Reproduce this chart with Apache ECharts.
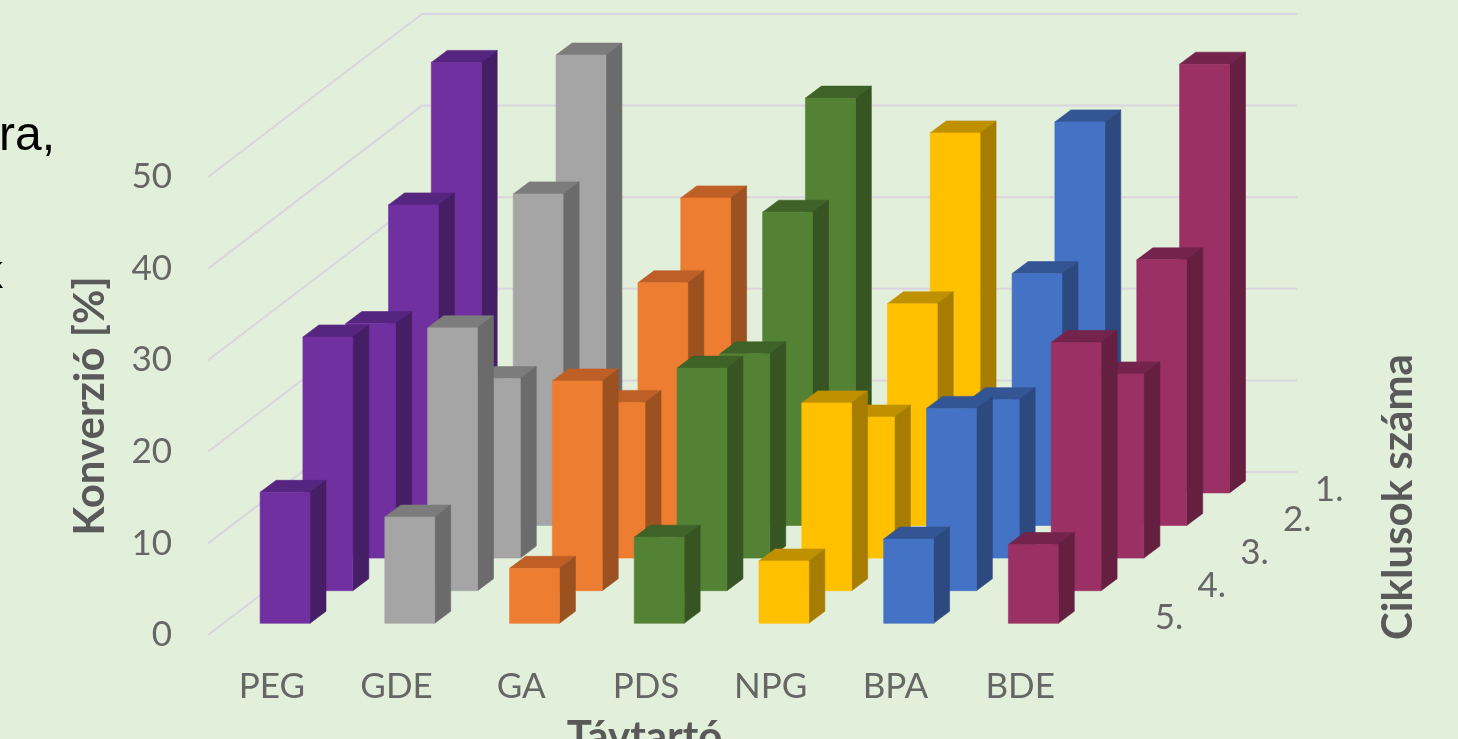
<!DOCTYPE html>
<html>
<head>
<meta charset="utf-8">
<title>Konverzió</title>
<style>
    html, body { margin: 0; padding: 0; background: #e2efda; overflow: hidden; }
    #chart { width: 1458px; height: 739px; }
</style>
<script src="https://cdn.jsdelivr.net/npm/echarts@6/dist/echarts.min.js"></script>
</head>
<body>
<div id="chart"></div>
<script>
var categories = ['PEG', 'GDE', 'GA', 'PDS', 'NPG', 'BPA', 'BDE'];
var cycleLabels = ['1.', '2.', '3.', '4.', '5.'];
var valueTicks = [0, 10, 20, 30, 40, 50];

// one list per cycle, same order as categories
var cycle1 = [47.0, 47.8, 32.2, 43.1, 39.3, 40.5, 46.8];
var cycle2 = [35.0, 36.2, 26.5, 34.2, 24.2, 27.5, 29.0];
var cycle3 = [25.6, 19.6, 17.0, 22.3, 15.4, 17.3, 20.1];
var cycle4 = [27.7, 28.7, 22.9, 24.3, 20.5, 19.9, 27.1];
var cycle5 = [14.3, 11.6, 6.0, 9.4, 6.8, 9.2, 8.6];
var cycles = [cycle1, cycle2, cycle3, cycle4, cycle5];

var frontColors = ['#7030a0', '#a5a5a5', '#ed7d31', '#548235', '#ffc000', '#4472c4', '#9a3064'];
var topColors = ['#562580', '#7c7c7c', '#bd5f26', '#3f6228', '#bf9000', '#335593', '#74244c'];
var sideColors = ['#451e66', '#6b6b6b', '#9b5220', '#365522', '#a67d00', '#2c4a80', '#641f41'];

var TEXT_COLOR = '#666666';
var FONT = 'Lato';

// projection of the depth axis on the screen
var STEP_X = 42.8;
var STEP_Y = 32.6;
var BAR_DX = 16;
var BAR_DY = 12;
var INSET_X = 14.7;
var INSET_Y = 11.7;

function face(points, color) {
    // thin stroke of the same colour closes the seams between faces
    return {
        type: 'polygon',
        shape: { points: points },
        style: { fill: color, stroke: color, lineWidth: 0.6 }
    };
}

function renderBar(params, api, rowsFromFront) {
    var cat = api.value(0);
    var top = api.coord([cat, api.value(1)]);
    var base = api.coord([cat, 0]);
    var w = api.size([1, 0])[0] * 0.4;
    var x0 = top[0] - w / 2 + INSET_X + rowsFromFront * STEP_X;
    var x1 = x0 + w;
    var shiftY = INSET_Y + rowsFromFront * STEP_Y;
    var y0 = top[1] - shiftY;
    var y1 = base[1] - shiftY;

    return {
        type: 'group',
        children: [
            face([[x0, y0], [x1, y0], [x1 + BAR_DX, y0 - BAR_DY], [x0 + BAR_DX, y0 - BAR_DY]], topColors[cat]),
            face([[x1, y0], [x1 + BAR_DX, y0 - BAR_DY], [x1 + BAR_DX, y1 - BAR_DY], [x1, y1]], sideColors[cat]),
            face([[x0, y0], [x1, y0], [x1, y1], [x0, y1]], frontColors[cat])
        ]
    };
}

function renderWallLine(params, api) {
    var y = api.coord([0, api.value(1)])[1];
    var rect = params.coordSys;
    var dx = STEP_X * cycleLabels.length;
    var dy = STEP_Y * cycleLabels.length;
    return {
        type: 'polyline',
        shape: { points: [[rect.x, y], [rect.x + dx, y - dy], [rect.x + rect.width + dx + 2, y - dy]] },
        style: { stroke: '#dad6e0', lineWidth: 2, fill: null }
    };
}

function renderCycleLabel(params, api) {
    var rowsFromFront = cycleLabels.length - 1 - api.value(0);
    var base = api.coord([categories.length - 1, 0]);
    // the "1." label sits a little closer in the original
    var isLast = rowsFromFront === cycleLabels.length - 1;
    return {
        type: 'text',
        x: base[0] + 136 + rowsFromFront * STEP_X + (isLast ? -11 : 0),
        y: base[1] - 17 - rowsFromFront * STEP_Y + (isLast ? 2 : 0),
        style: {
            text: cycleLabels[api.value(0)],
            fill: TEXT_COLOR,
            font: '35px ' + FONT,
            textAlign: 'left',
            textVerticalAlign: 'middle'
        }
    };
}

var series = [{
    type: 'custom',
    z: 1,
    silent: true,
    clip: false,
    renderItem: renderWallLine,
    data: valueTicks.map(function (v) { return [0, v]; })
}];

// back rows first so that the front rows cover them
cycles.forEach(function (values, index) {
    var rowsFromFront = cycles.length - 1 - index;
    series.push({
        name: cycleLabels[index],
        type: 'custom',
        z: 2 + index,
        clip: false,
        renderItem: function (params, api) {
            return renderBar(params, api, rowsFromFront);
        },
        data: values.map(function (v, i) { return [i, v]; })
    });
});

series.push({
    type: 'custom',
    z: 10,
    silent: true,
    clip: false,
    renderItem: renderCycleLabel,
    data: cycleLabels.map(function (label, i) { return [i, 0]; })
});

var chart = echarts.init(document.getElementById('chart'), null, { renderer: 'canvas' });
chart.setOption({
    animation: false,
    backgroundColor: '#e2efda',
    textStyle: { fontFamily: FONT },
    grid: { left: 208, top: 177, width: 873, height: 458, outerBoundsMode: 'none' },
    xAxis: {
        type: 'category',
        data: categories,
        axisLine: { show: false },
        axisTick: { show: false },
        axisLabel: { color: TEXT_COLOR, fontSize: 35, fontFamily: FONT, margin: 34, padding: [0, 0, 0, 3] },
        name: 'Távtartó',
        nameLocation: 'middle',
        nameGap: 81,
        nameTextStyle: { color: '#595959', fontSize: 42, fontWeight: 'bold', fontFamily: FONT }
    },
    yAxis: {
        type: 'value',
        min: 0,
        max: 50,
        interval: 10,
        splitLine: { show: false },
        axisLine: { show: false },
        axisTick: { show: false },
        axisLabel: { color: TEXT_COLOR, fontSize: 35, fontFamily: FONT, margin: 36 },
        name: 'Konverzió [%]',
        nameLocation: 'middle',
        nameGap: 97,
        nameRotate: 90,
        nameTextStyle: { color: '#595959', fontSize: 42, fontWeight: 'bold', fontFamily: FONT }
    },
    graphic: [{
        type: 'text',
        x: 55,
        y: 137,
        style: { text: 'ra,', fill: '#000000', font: '48px "Liberation Sans"', textAlign: 'right', textVerticalAlign: 'middle' }
    }, {
        type: 'text',
        x: 3,
        y: 275,
        style: { text: 'k', fill: '#000000', font: '48px "Liberation Sans"', textAlign: 'right', textVerticalAlign: 'middle' }
    }, {
        type: 'text',
        x: 1398,
        y: 497,
        rotation: Math.PI / 2,
        style: { text: 'Ciklusok száma', fill: '#595959', font: 'bold 42px ' + FONT, textAlign: 'center', textVerticalAlign: 'middle' }
    }],
    series: series
});
</script>
</body>
</html>
